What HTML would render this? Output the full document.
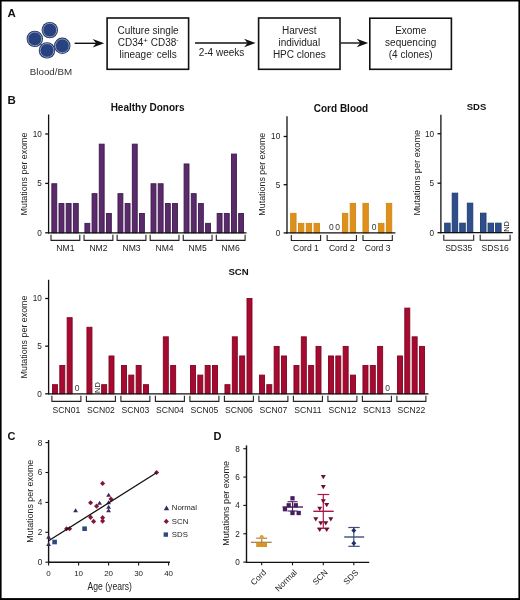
<!DOCTYPE html>
<html><head><meta charset="utf-8"><title>Figure</title>
<style>html,body{margin:0;padding:0;background:#fff;width:520px;height:600px;overflow:hidden}svg{display:block;will-change:transform}text{font-family:"Liberation Sans", sans-serif}</style>
</head><body>
<svg width="520" height="600" viewBox="0 0 520 600">
<rect x="0" y="0" width="520" height="600" fill="#fff"/>
<text x="7.5" y="17" font-size="11.5" text-anchor="start" font-weight="bold" fill="#111" >A</text>
<circle cx="49.8" cy="30.1" r="8.2" fill="#1f2d57"/>
<circle cx="49.8" cy="30.1" r="6.9" fill="#27427f" stroke="#8fa3cc" stroke-width="0.95"/>
<circle cx="34.8" cy="38.9" r="8.2" fill="#1f2d57"/>
<circle cx="34.8" cy="38.9" r="6.9" fill="#27427f" stroke="#8fa3cc" stroke-width="0.95"/>
<circle cx="62.3" cy="45.8" r="8.2" fill="#1f2d57"/>
<circle cx="62.3" cy="45.8" r="6.9" fill="#27427f" stroke="#8fa3cc" stroke-width="0.95"/>
<circle cx="47" cy="50.4" r="8.2" fill="#1f2d57"/>
<circle cx="47" cy="50.4" r="6.9" fill="#27427f" stroke="#8fa3cc" stroke-width="0.95"/>
<text x="51" y="74.7" font-size="9.75" text-anchor="middle" font-weight="normal" fill="#333" >Blood/BM</text>
<line x1="74.6" y1="43.3" x2="98.2" y2="43.3" stroke="#111" stroke-width="1.4"/>
<path d="M104.2,43.3 L92.7,39.0 L96.2,43.3 L92.7,47.599999999999994 Z" fill="#111"/>
<line x1="195" y1="43" x2="249.6" y2="43" stroke="#111" stroke-width="1.4"/>
<path d="M255.6,43 L244.1,38.7 L247.6,43 L244.1,47.3 Z" fill="#111"/>
<line x1="340.5" y1="43" x2="362.2" y2="43" stroke="#111" stroke-width="1.4"/>
<path d="M368.2,43 L356.7,38.7 L360.2,43 L356.7,47.3 Z" fill="#111"/>
<rect x="107.1" y="18" width="81.5" height="51.3" fill="none" stroke="#111" stroke-width="1.6"/>
<rect x="258.6" y="18" width="81.39999999999998" height="51.3" fill="none" stroke="#111" stroke-width="1.6"/>
<rect x="369.8" y="18.2" width="81.59999999999997" height="51.099999999999994" fill="none" stroke="#111" stroke-width="1.6"/>
<text x="148.1" y="34.0" font-size="10.0" text-anchor="middle" font-weight="normal" fill="#222" >Culture single</text>
<text x="148.1" y="45.6" font-size="10.0" text-anchor="middle" fill="#222">CD34<tspan font-size="8" dy="-2.3">+</tspan><tspan dy="2.3"> CD38</tspan><tspan font-size="6.5" dy="-3.6">-</tspan></text>
<text x="148.1" y="57.6" font-size="10.0" text-anchor="middle" fill="#222">lineage<tspan font-size="6.5" dy="-3.6">-</tspan><tspan dy="3.6"> cells</tspan></text>
<text x="221.5" y="56.2" font-size="10.0" text-anchor="middle" font-weight="normal" fill="#222" >2-4 weeks</text>
<text x="299.3" y="34.0" font-size="10.0" text-anchor="middle" font-weight="normal" fill="#222" >Harvest</text>
<text x="299.3" y="45.6" font-size="10.0" text-anchor="middle" font-weight="normal" fill="#222" >individual</text>
<text x="299.3" y="57.6" font-size="10.0" text-anchor="middle" font-weight="normal" fill="#222" >HPC clones</text>
<text x="410.7" y="34.0" font-size="10.0" text-anchor="middle" font-weight="normal" fill="#222" >Exome</text>
<text x="410.7" y="45.6" font-size="10.0" text-anchor="middle" font-weight="normal" fill="#222" >sequencing</text>
<text x="410.7" y="57.6" font-size="10.0" text-anchor="middle" font-weight="normal" fill="#222" >(4 clones)</text>
<text x="7.5" y="103.7" font-size="11.5" text-anchor="start" font-weight="bold" fill="#111" >B</text>
<rect x="51.85" y="183.75" width="4.90" height="49.05" fill="#5a2a6a" stroke="#3c1a4e" stroke-width="0.9"/>
<rect x="59.02" y="203.55" width="4.90" height="29.25" fill="#5a2a6a" stroke="#3c1a4e" stroke-width="0.9"/>
<rect x="66.19" y="203.55" width="4.90" height="29.25" fill="#5a2a6a" stroke="#3c1a4e" stroke-width="0.9"/>
<rect x="73.36" y="203.55" width="4.90" height="29.25" fill="#5a2a6a" stroke="#3c1a4e" stroke-width="0.9"/>
<path d="M51.00,234.80 V240.40 H79.80 V234.80" fill="none" stroke="#222" stroke-width="1.1"/>
<text x="65.40" y="251.00" font-size="8.6" text-anchor="middle" font-weight="normal" fill="#222" >NM1</text>
<rect x="84.91" y="223.35" width="4.90" height="9.45" fill="#5a2a6a" stroke="#3c1a4e" stroke-width="0.9"/>
<rect x="92.08" y="193.65" width="4.90" height="39.15" fill="#5a2a6a" stroke="#3c1a4e" stroke-width="0.9"/>
<rect x="99.25" y="144.15" width="4.90" height="88.65" fill="#5a2a6a" stroke="#3c1a4e" stroke-width="0.9"/>
<rect x="106.42" y="213.45" width="4.90" height="19.35" fill="#5a2a6a" stroke="#3c1a4e" stroke-width="0.9"/>
<path d="M84.06,234.80 V240.40 H112.86 V234.80" fill="none" stroke="#222" stroke-width="1.1"/>
<text x="98.46" y="251.00" font-size="8.6" text-anchor="middle" font-weight="normal" fill="#222" >NM2</text>
<rect x="117.97" y="193.65" width="4.90" height="39.15" fill="#5a2a6a" stroke="#3c1a4e" stroke-width="0.9"/>
<rect x="125.14" y="203.55" width="4.90" height="29.25" fill="#5a2a6a" stroke="#3c1a4e" stroke-width="0.9"/>
<rect x="132.31" y="144.15" width="4.90" height="88.65" fill="#5a2a6a" stroke="#3c1a4e" stroke-width="0.9"/>
<rect x="139.48" y="213.45" width="4.90" height="19.35" fill="#5a2a6a" stroke="#3c1a4e" stroke-width="0.9"/>
<path d="M117.12,234.80 V240.40 H145.92 V234.80" fill="none" stroke="#222" stroke-width="1.1"/>
<text x="131.52" y="251.00" font-size="8.6" text-anchor="middle" font-weight="normal" fill="#222" >NM3</text>
<rect x="151.03" y="183.75" width="4.90" height="49.05" fill="#5a2a6a" stroke="#3c1a4e" stroke-width="0.9"/>
<rect x="158.20" y="183.75" width="4.90" height="49.05" fill="#5a2a6a" stroke="#3c1a4e" stroke-width="0.9"/>
<rect x="165.37" y="203.55" width="4.90" height="29.25" fill="#5a2a6a" stroke="#3c1a4e" stroke-width="0.9"/>
<rect x="172.54" y="203.55" width="4.90" height="29.25" fill="#5a2a6a" stroke="#3c1a4e" stroke-width="0.9"/>
<path d="M150.18,234.80 V240.40 H178.98 V234.80" fill="none" stroke="#222" stroke-width="1.1"/>
<text x="164.58" y="251.00" font-size="8.6" text-anchor="middle" font-weight="normal" fill="#222" >NM4</text>
<rect x="184.09" y="163.95" width="4.90" height="68.85" fill="#5a2a6a" stroke="#3c1a4e" stroke-width="0.9"/>
<rect x="191.26" y="193.65" width="4.90" height="39.15" fill="#5a2a6a" stroke="#3c1a4e" stroke-width="0.9"/>
<rect x="198.43" y="203.55" width="4.90" height="29.25" fill="#5a2a6a" stroke="#3c1a4e" stroke-width="0.9"/>
<rect x="205.60" y="223.35" width="4.90" height="9.45" fill="#5a2a6a" stroke="#3c1a4e" stroke-width="0.9"/>
<path d="M183.24,234.80 V240.40 H212.04 V234.80" fill="none" stroke="#222" stroke-width="1.1"/>
<text x="197.64" y="251.00" font-size="8.6" text-anchor="middle" font-weight="normal" fill="#222" >NM5</text>
<rect x="217.15" y="213.45" width="4.90" height="19.35" fill="#5a2a6a" stroke="#3c1a4e" stroke-width="0.9"/>
<rect x="224.32" y="213.45" width="4.90" height="19.35" fill="#5a2a6a" stroke="#3c1a4e" stroke-width="0.9"/>
<rect x="231.49" y="154.05" width="4.90" height="78.75" fill="#5a2a6a" stroke="#3c1a4e" stroke-width="0.9"/>
<rect x="238.66" y="213.45" width="4.90" height="19.35" fill="#5a2a6a" stroke="#3c1a4e" stroke-width="0.9"/>
<path d="M216.30,234.80 V240.40 H245.10 V234.80" fill="none" stroke="#222" stroke-width="1.1"/>
<text x="230.70" y="251.00" font-size="8.6" text-anchor="middle" font-weight="normal" fill="#222" >NM6</text>
<line x1="48.6" y1="114.5" x2="48.6" y2="233.4" stroke="#111" stroke-width="1.3"/>
<line x1="48.0" y1="232.8" x2="246.5" y2="232.8" stroke="#111" stroke-width="1.3"/>
<line x1="45.2" y1="232.8" x2="48.6" y2="232.8" stroke="#111" stroke-width="1.3"/>
<text x="41.80" y="235.60" font-size="8.2" text-anchor="end" font-weight="normal" fill="#222" >0</text>
<line x1="45.2" y1="183.4" x2="48.6" y2="183.4" stroke="#111" stroke-width="1.3"/>
<text x="41.80" y="186.20" font-size="8.2" text-anchor="end" font-weight="normal" fill="#222" >5</text>
<line x1="45.2" y1="134.0" x2="48.6" y2="134.0" stroke="#111" stroke-width="1.3"/>
<text x="41.80" y="136.80" font-size="8.2" text-anchor="end" font-weight="normal" fill="#222" >10</text>
<text x="0" y="0" font-size="8.9" text-anchor="middle" fill="#222" transform="translate(26.9,174) rotate(-90)">Mutations per exome</text>
<text x="147.6" y="110.8" font-size="10" text-anchor="middle" font-weight="bold" fill="#111" >Healthy Donors</text>
<rect x="290.65" y="213.35" width="5.40" height="19.55" fill="#e0901a" stroke="#c88a16" stroke-width="0.9"/>
<rect x="298.45" y="223.35" width="5.40" height="9.55" fill="#e0901a" stroke="#c88a16" stroke-width="0.9"/>
<rect x="306.25" y="223.35" width="5.40" height="9.55" fill="#e0901a" stroke="#c88a16" stroke-width="0.9"/>
<rect x="314.05" y="223.35" width="5.40" height="9.55" fill="#e0901a" stroke="#c88a16" stroke-width="0.9"/>
<path d="M291.30,234.90 V240.50 H320.60 V234.90" fill="none" stroke="#222" stroke-width="1.1"/>
<text x="305.95" y="251.10" font-size="8.6" text-anchor="middle" font-weight="normal" fill="#222" >Cord 1</text>
<text x="331.30" y="230.00" font-size="8.5" text-anchor="middle" font-weight="normal" fill="#333" >0</text>
<text x="337.70" y="230.00" font-size="8.5" text-anchor="middle" font-weight="normal" fill="#333" >0</text>
<rect x="342.40" y="213.35" width="5.40" height="19.55" fill="#e0901a" stroke="#c88a16" stroke-width="0.9"/>
<rect x="350.20" y="203.35" width="5.40" height="29.55" fill="#e0901a" stroke="#c88a16" stroke-width="0.9"/>
<path d="M327.15,234.90 V240.50 H356.45 V234.90" fill="none" stroke="#222" stroke-width="1.1"/>
<text x="341.80" y="251.10" font-size="8.6" text-anchor="middle" font-weight="normal" fill="#222" >Cord 2</text>
<rect x="362.95" y="203.35" width="5.40" height="29.55" fill="#e0901a" stroke="#c88a16" stroke-width="0.9"/>
<text x="374.20" y="230.00" font-size="8.5" text-anchor="middle" font-weight="normal" fill="#333" >0</text>
<rect x="378.55" y="223.35" width="5.40" height="9.55" fill="#e0901a" stroke="#c88a16" stroke-width="0.9"/>
<rect x="386.35" y="203.35" width="5.40" height="29.55" fill="#e0901a" stroke="#c88a16" stroke-width="0.9"/>
<path d="M363.00,234.90 V240.50 H392.30 V234.90" fill="none" stroke="#222" stroke-width="1.1"/>
<text x="377.65" y="251.10" font-size="8.6" text-anchor="middle" font-weight="normal" fill="#222" >Cord 3</text>
<line x1="287.0" y1="116.2" x2="287.0" y2="233.5" stroke="#111" stroke-width="1.3"/>
<line x1="286.4" y1="232.9" x2="395.4" y2="232.9" stroke="#111" stroke-width="1.3"/>
<line x1="283.6" y1="232.9" x2="287.0" y2="232.9" stroke="#111" stroke-width="1.3"/>
<text x="280.20" y="235.70" font-size="8.2" text-anchor="end" font-weight="normal" fill="#222" >0</text>
<line x1="283.6" y1="184.7" x2="287.0" y2="184.7" stroke="#111" stroke-width="1.3"/>
<text x="280.20" y="187.50" font-size="8.2" text-anchor="end" font-weight="normal" fill="#222" >5</text>
<line x1="283.6" y1="136.5" x2="287.0" y2="136.5" stroke="#111" stroke-width="1.3"/>
<text x="280.20" y="139.30" font-size="8.2" text-anchor="end" font-weight="normal" fill="#222" >10</text>
<text x="0" y="0" font-size="8.9" text-anchor="middle" fill="#222" transform="translate(265.4,174.2) rotate(-90)">Mutations per exome</text>
<text x="341" y="112.0" font-size="10" text-anchor="middle" font-weight="bold" fill="#111" >Cord Blood</text>
<rect x="444.65" y="223.15" width="5.50" height="9.55" fill="#2f4e8c" stroke="#213a6e" stroke-width="0.9"/>
<rect x="452.20" y="193.15" width="5.50" height="39.55" fill="#2f4e8c" stroke="#213a6e" stroke-width="0.9"/>
<rect x="459.75" y="223.15" width="5.50" height="9.55" fill="#2f4e8c" stroke="#213a6e" stroke-width="0.9"/>
<rect x="467.30" y="203.15" width="5.50" height="29.55" fill="#2f4e8c" stroke="#213a6e" stroke-width="0.9"/>
<path d="M443.80,234.70 V240.30 H473.70 V234.70" fill="none" stroke="#222" stroke-width="1.1"/>
<text x="458.75" y="250.90" font-size="8.6" text-anchor="middle" font-weight="normal" fill="#222" >SDS35</text>
<rect x="480.50" y="213.15" width="5.50" height="19.55" fill="#2f4e8c" stroke="#213a6e" stroke-width="0.9"/>
<rect x="488.05" y="223.15" width="5.50" height="9.55" fill="#2f4e8c" stroke="#213a6e" stroke-width="0.9"/>
<rect x="495.60" y="223.15" width="5.50" height="9.55" fill="#2f4e8c" stroke="#213a6e" stroke-width="0.9"/>
<text x="0" y="0" font-size="7.5" fill="#222" transform="translate(508.60,231.80) rotate(-90)">ND</text>
<path d="M480.20,234.70 V240.30 H510.10 V234.70" fill="none" stroke="#222" stroke-width="1.1"/>
<text x="495.15" y="250.90" font-size="8.6" text-anchor="middle" font-weight="normal" fill="#222" >SDS16</text>
<line x1="440.9" y1="114.8" x2="440.9" y2="233.29999999999998" stroke="#111" stroke-width="1.3"/>
<line x1="440.29999999999995" y1="232.7" x2="512.8" y2="232.7" stroke="#111" stroke-width="1.3"/>
<line x1="437.5" y1="232.7" x2="440.9" y2="232.7" stroke="#111" stroke-width="1.3"/>
<text x="434.10" y="235.50" font-size="8.2" text-anchor="end" font-weight="normal" fill="#222" >0</text>
<line x1="437.5" y1="183.2" x2="440.9" y2="183.2" stroke="#111" stroke-width="1.3"/>
<text x="434.10" y="186.00" font-size="8.2" text-anchor="end" font-weight="normal" fill="#222" >5</text>
<line x1="437.5" y1="133.7" x2="440.9" y2="133.7" stroke="#111" stroke-width="1.3"/>
<text x="434.10" y="136.50" font-size="8.2" text-anchor="end" font-weight="normal" fill="#222" >10</text>
<text x="0" y="0" font-size="9.2" text-anchor="middle" fill="#222" transform="translate(419.6,172.7) rotate(-90)">Mutations per exome</text>
<text x="476.5" y="110.2" font-size="9.5" text-anchor="middle" font-weight="bold" fill="#111" >SDS</text>
<rect x="52.45" y="384.68" width="5.00" height="9.12" fill="#a60a30" stroke="#7e0522" stroke-width="0.9"/>
<rect x="59.80" y="365.54" width="5.00" height="28.26" fill="#a60a30" stroke="#7e0522" stroke-width="0.9"/>
<rect x="67.15" y="317.69" width="5.00" height="76.11" fill="#a60a30" stroke="#7e0522" stroke-width="0.9"/>
<text x="77.00" y="390.90" font-size="8.5" text-anchor="middle" font-weight="normal" fill="#333" >0</text>
<path d="M51.90,395.80 V401.40 H80.90 V395.80" fill="none" stroke="#222" stroke-width="1.1"/>
<text x="66.40" y="412.70" font-size="8.6" text-anchor="middle" font-weight="normal" fill="#222" >SCN01</text>
<rect x="86.95" y="327.26" width="5.00" height="66.54" fill="#a60a30" stroke="#7e0522" stroke-width="0.9"/>
<text x="0" y="0" font-size="7.5" fill="#222" transform="translate(99.50,392.90) rotate(-90)">ND</text>
<rect x="101.65" y="384.68" width="5.00" height="9.12" fill="#a60a30" stroke="#7e0522" stroke-width="0.9"/>
<rect x="109.00" y="355.97" width="5.00" height="37.83" fill="#a60a30" stroke="#7e0522" stroke-width="0.9"/>
<path d="M86.40,395.80 V401.40 H115.40 V395.80" fill="none" stroke="#222" stroke-width="1.1"/>
<text x="100.90" y="412.70" font-size="8.6" text-anchor="middle" font-weight="normal" fill="#222" >SCN02</text>
<rect x="121.45" y="365.54" width="5.00" height="28.26" fill="#a60a30" stroke="#7e0522" stroke-width="0.9"/>
<rect x="128.80" y="375.11" width="5.00" height="18.69" fill="#a60a30" stroke="#7e0522" stroke-width="0.9"/>
<rect x="136.15" y="365.54" width="5.00" height="28.26" fill="#a60a30" stroke="#7e0522" stroke-width="0.9"/>
<rect x="143.50" y="384.68" width="5.00" height="9.12" fill="#a60a30" stroke="#7e0522" stroke-width="0.9"/>
<path d="M120.90,395.80 V401.40 H149.90 V395.80" fill="none" stroke="#222" stroke-width="1.1"/>
<text x="135.40" y="412.70" font-size="8.6" text-anchor="middle" font-weight="normal" fill="#222" >SCN03</text>
<rect x="163.30" y="336.83" width="5.00" height="56.97" fill="#a60a30" stroke="#7e0522" stroke-width="0.9"/>
<rect x="170.65" y="365.54" width="5.00" height="28.26" fill="#a60a30" stroke="#7e0522" stroke-width="0.9"/>
<path d="M155.40,395.80 V401.40 H184.40 V395.80" fill="none" stroke="#222" stroke-width="1.1"/>
<text x="169.90" y="412.70" font-size="8.6" text-anchor="middle" font-weight="normal" fill="#222" >SCN04</text>
<rect x="190.45" y="365.54" width="5.00" height="28.26" fill="#a60a30" stroke="#7e0522" stroke-width="0.9"/>
<rect x="197.80" y="375.11" width="5.00" height="18.69" fill="#a60a30" stroke="#7e0522" stroke-width="0.9"/>
<rect x="205.15" y="365.54" width="5.00" height="28.26" fill="#a60a30" stroke="#7e0522" stroke-width="0.9"/>
<rect x="212.50" y="365.54" width="5.00" height="28.26" fill="#a60a30" stroke="#7e0522" stroke-width="0.9"/>
<path d="M189.90,395.80 V401.40 H218.90 V395.80" fill="none" stroke="#222" stroke-width="1.1"/>
<text x="204.40" y="412.70" font-size="8.6" text-anchor="middle" font-weight="normal" fill="#222" >SCN05</text>
<rect x="224.95" y="384.68" width="5.00" height="9.12" fill="#a60a30" stroke="#7e0522" stroke-width="0.9"/>
<rect x="232.30" y="336.83" width="5.00" height="56.97" fill="#a60a30" stroke="#7e0522" stroke-width="0.9"/>
<rect x="239.65" y="355.97" width="5.00" height="37.83" fill="#a60a30" stroke="#7e0522" stroke-width="0.9"/>
<rect x="247.00" y="298.55" width="5.00" height="95.25" fill="#a60a30" stroke="#7e0522" stroke-width="0.9"/>
<path d="M224.40,395.80 V401.40 H253.40 V395.80" fill="none" stroke="#222" stroke-width="1.1"/>
<text x="238.90" y="412.70" font-size="8.6" text-anchor="middle" font-weight="normal" fill="#222" >SCN06</text>
<rect x="259.45" y="375.11" width="5.00" height="18.69" fill="#a60a30" stroke="#7e0522" stroke-width="0.9"/>
<rect x="266.80" y="384.68" width="5.00" height="9.12" fill="#a60a30" stroke="#7e0522" stroke-width="0.9"/>
<rect x="274.15" y="346.40" width="5.00" height="47.40" fill="#a60a30" stroke="#7e0522" stroke-width="0.9"/>
<rect x="281.50" y="355.97" width="5.00" height="37.83" fill="#a60a30" stroke="#7e0522" stroke-width="0.9"/>
<path d="M258.90,395.80 V401.40 H287.90 V395.80" fill="none" stroke="#222" stroke-width="1.1"/>
<text x="273.40" y="412.70" font-size="8.6" text-anchor="middle" font-weight="normal" fill="#222" >SCN07</text>
<rect x="293.95" y="365.54" width="5.00" height="28.26" fill="#a60a30" stroke="#7e0522" stroke-width="0.9"/>
<rect x="301.30" y="336.83" width="5.00" height="56.97" fill="#a60a30" stroke="#7e0522" stroke-width="0.9"/>
<rect x="308.65" y="365.54" width="5.00" height="28.26" fill="#a60a30" stroke="#7e0522" stroke-width="0.9"/>
<rect x="316.00" y="346.40" width="5.00" height="47.40" fill="#a60a30" stroke="#7e0522" stroke-width="0.9"/>
<path d="M293.40,395.80 V401.40 H322.40 V395.80" fill="none" stroke="#222" stroke-width="1.1"/>
<text x="307.90" y="412.70" font-size="8.6" text-anchor="middle" font-weight="normal" fill="#222" >SCN11</text>
<rect x="328.45" y="355.97" width="5.00" height="37.83" fill="#a60a30" stroke="#7e0522" stroke-width="0.9"/>
<rect x="335.80" y="355.97" width="5.00" height="37.83" fill="#a60a30" stroke="#7e0522" stroke-width="0.9"/>
<rect x="343.15" y="346.40" width="5.00" height="47.40" fill="#a60a30" stroke="#7e0522" stroke-width="0.9"/>
<rect x="350.50" y="375.11" width="5.00" height="18.69" fill="#a60a30" stroke="#7e0522" stroke-width="0.9"/>
<path d="M327.90,395.80 V401.40 H356.90 V395.80" fill="none" stroke="#222" stroke-width="1.1"/>
<text x="342.40" y="412.70" font-size="8.6" text-anchor="middle" font-weight="normal" fill="#222" >SCN12</text>
<rect x="362.95" y="365.54" width="5.00" height="28.26" fill="#a60a30" stroke="#7e0522" stroke-width="0.9"/>
<rect x="370.30" y="365.54" width="5.00" height="28.26" fill="#a60a30" stroke="#7e0522" stroke-width="0.9"/>
<rect x="377.65" y="346.40" width="5.00" height="47.40" fill="#a60a30" stroke="#7e0522" stroke-width="0.9"/>
<text x="387.50" y="390.90" font-size="8.5" text-anchor="middle" font-weight="normal" fill="#333" >0</text>
<path d="M362.40,395.80 V401.40 H391.40 V395.80" fill="none" stroke="#222" stroke-width="1.1"/>
<text x="376.90" y="412.70" font-size="8.6" text-anchor="middle" font-weight="normal" fill="#222" >SCN13</text>
<rect x="397.45" y="355.97" width="5.00" height="37.83" fill="#a60a30" stroke="#7e0522" stroke-width="0.9"/>
<rect x="404.80" y="308.12" width="5.00" height="85.68" fill="#a60a30" stroke="#7e0522" stroke-width="0.9"/>
<rect x="412.15" y="336.83" width="5.00" height="56.97" fill="#a60a30" stroke="#7e0522" stroke-width="0.9"/>
<rect x="419.50" y="346.40" width="5.00" height="47.40" fill="#a60a30" stroke="#7e0522" stroke-width="0.9"/>
<path d="M396.90,395.80 V401.40 H425.90 V395.80" fill="none" stroke="#222" stroke-width="1.1"/>
<text x="411.40" y="412.70" font-size="8.6" text-anchor="middle" font-weight="normal" fill="#222" >SCN22</text>
<line x1="48.6" y1="279.8" x2="48.6" y2="394.40000000000003" stroke="#111" stroke-width="1.3"/>
<line x1="48.0" y1="393.8" x2="428.5" y2="393.8" stroke="#111" stroke-width="1.3"/>
<line x1="45.2" y1="393.8" x2="48.6" y2="393.8" stroke="#111" stroke-width="1.3"/>
<text x="41.80" y="396.60" font-size="8.2" text-anchor="end" font-weight="normal" fill="#222" >0</text>
<line x1="45.2" y1="346.15000000000003" x2="48.6" y2="346.15000000000003" stroke="#111" stroke-width="1.3"/>
<text x="41.80" y="348.95" font-size="8.2" text-anchor="end" font-weight="normal" fill="#222" >5</text>
<line x1="45.2" y1="298.5" x2="48.6" y2="298.5" stroke="#111" stroke-width="1.3"/>
<text x="41.80" y="301.30" font-size="8.2" text-anchor="end" font-weight="normal" fill="#222" >10</text>
<text x="0" y="0" font-size="8.9" text-anchor="middle" fill="#222" transform="translate(27.3,337) rotate(-90)">Mutations per exome</text>
<text x="238.6" y="274.6" font-size="9.6" text-anchor="middle" font-weight="bold" fill="#111" >SCN</text>
<text x="7.4" y="439.5" font-size="11" text-anchor="start" font-weight="bold" fill="#111" >C</text>
<line x1="48.6" y1="440" x2="48.6" y2="562.7" stroke="#111" stroke-width="1.4"/>
<line x1="48.1" y1="562.2" x2="170" y2="562.2" stroke="#111" stroke-width="1.4"/>
<line x1="45.4" y1="562.2" x2="48.6" y2="562.2" stroke="#111" stroke-width="1.1"/>
<text x="42.20" y="565.10" font-size="8.2" text-anchor="end" font-weight="normal" fill="#222" >0</text>
<line x1="45.4" y1="532.3000000000001" x2="48.6" y2="532.3000000000001" stroke="#111" stroke-width="1.1"/>
<text x="42.20" y="535.20" font-size="8.2" text-anchor="end" font-weight="normal" fill="#222" >2</text>
<line x1="45.4" y1="502.40000000000003" x2="48.6" y2="502.40000000000003" stroke="#111" stroke-width="1.1"/>
<text x="42.20" y="505.30" font-size="8.2" text-anchor="end" font-weight="normal" fill="#222" >4</text>
<line x1="45.4" y1="472.50000000000006" x2="48.6" y2="472.50000000000006" stroke="#111" stroke-width="1.1"/>
<text x="42.20" y="475.40" font-size="8.2" text-anchor="end" font-weight="normal" fill="#222" >6</text>
<line x1="45.4" y1="442.6" x2="48.6" y2="442.6" stroke="#111" stroke-width="1.1"/>
<text x="42.20" y="445.50" font-size="8.2" text-anchor="end" font-weight="normal" fill="#222" >8</text>
<line x1="48.6" y1="562.2" x2="48.6" y2="565.4000000000001" stroke="#111" stroke-width="1.1"/>
<text x="48.60" y="575.50" font-size="8.0" text-anchor="middle" font-weight="normal" fill="#222" >0</text>
<line x1="78.6" y1="562.2" x2="78.6" y2="565.4000000000001" stroke="#111" stroke-width="1.1"/>
<text x="78.60" y="575.50" font-size="8.0" text-anchor="middle" font-weight="normal" fill="#222" >10</text>
<line x1="108.6" y1="562.2" x2="108.6" y2="565.4000000000001" stroke="#111" stroke-width="1.1"/>
<text x="108.60" y="575.50" font-size="8.0" text-anchor="middle" font-weight="normal" fill="#222" >20</text>
<line x1="138.6" y1="562.2" x2="138.6" y2="565.4000000000001" stroke="#111" stroke-width="1.1"/>
<text x="138.60" y="575.50" font-size="8.0" text-anchor="middle" font-weight="normal" fill="#222" >30</text>
<line x1="168.6" y1="562.2" x2="168.6" y2="565.4000000000001" stroke="#111" stroke-width="1.1"/>
<text x="168.60" y="575.50" font-size="8.0" text-anchor="middle" font-weight="normal" fill="#222" >40</text>
<text x="0" y="0" font-size="10.3" fill="#222" transform="translate(87.6,590) scale(0.835,1)">Age (years)</text>
<text x="0" y="0" font-size="8.9" text-anchor="middle" fill="#222" transform="translate(32.8,501.2) rotate(-90)">Mutations per exome</text>
<path d="M46.20,538.85 L51.00,538.85 L48.60,534.77 Z" fill="#3b2462"/>
<path d="M46.20,546.03 L51.00,546.03 L48.60,541.95 Z" fill="#3b2462"/>
<path d="M73.20,512.24 L78.00,512.24 L75.60,508.16 Z" fill="#3b2462"/>
<path d="M97.20,504.77 L102.00,504.77 L99.60,500.69 Z" fill="#3b2462"/>
<path d="M106.20,496.85 L111.00,496.85 L108.60,492.77 Z" fill="#3b2462"/>
<path d="M106.20,504.32 L111.00,504.32 L108.60,500.24 Z" fill="#3b2462"/>
<path d="M106.20,508.81 L111.00,508.81 L108.60,504.73 Z" fill="#3b2462"/>
<path d="M106.20,512.24 L111.00,512.24 L108.60,508.16 Z" fill="#3b2462"/>
<path d="M102.60,480.86 L105.15,483.41 L102.60,485.96 L100.05,483.41 Z" fill="#84163a"/>
<path d="M111.00,496.56 L113.55,499.11 L111.00,501.66 L108.45,499.11 Z" fill="#84163a"/>
<path d="M90.60,500.15 L93.15,502.70 L90.60,505.25 L88.05,502.70 Z" fill="#84163a"/>
<path d="M96.60,503.59 L99.15,506.14 L96.60,508.69 L94.05,506.14 Z" fill="#84163a"/>
<path d="M90.60,514.80 L93.15,517.35 L90.60,519.90 L88.05,517.35 Z" fill="#84163a"/>
<path d="M93.60,518.84 L96.15,521.39 L93.60,523.94 L91.05,521.39 Z" fill="#84163a"/>
<path d="M102.60,515.10 L105.15,517.65 L102.60,520.20 L100.05,517.65 Z" fill="#84163a"/>
<path d="M102.60,518.54 L105.15,521.09 L102.60,523.64 L100.05,521.09 Z" fill="#84163a"/>
<path d="M66.60,526.16 L69.15,528.71 L66.60,531.26 L64.05,528.71 Z" fill="#84163a"/>
<path d="M69.60,526.16 L72.15,528.71 L69.60,531.26 L67.05,528.71 Z" fill="#84163a"/>
<path d="M156.60,469.95 L159.15,472.50 L156.60,475.05 L154.05,472.50 Z" fill="#84163a"/>
<rect x="52.30" y="539.72" width="4.60" height="4.60" fill="#2d4a80"/>
<rect x="82.30" y="526.41" width="4.60" height="4.60" fill="#2d4a80"/>
<line x1="48.6" y1="540.8" x2="156.5" y2="472.8" stroke="#111" stroke-width="1.3"/>
<path d="M163.80,510.16 L169.20,510.16 L166.50,505.57 Z" fill="#3b2462"/>
<text x="171.8" y="510.3" font-size="7.8" text-anchor="start" font-weight="normal" fill="#222" >Normal</text>
<path d="M166.30,518.80 L168.90,521.40 L166.30,524.00 L163.70,521.40 Z" fill="#84163a"/>
<text x="171.8" y="524" font-size="7.8" text-anchor="start" font-weight="normal" fill="#222" >SCN</text>
<rect x="163.60" y="532.40" width="4.40" height="4.40" fill="#2d4a80"/>
<text x="171.8" y="537.2" font-size="7.8" text-anchor="start" font-weight="normal" fill="#222" >SDS</text>
<text x="213.4" y="439.5" font-size="11" text-anchor="start" font-weight="bold" fill="#111" >D</text>
<line x1="246.5" y1="445.4" x2="246.5" y2="562.6" stroke="#111" stroke-width="1.4"/>
<line x1="246.0" y1="562.4" x2="369.2" y2="562.4" stroke="#111" stroke-width="1.4"/>
<line x1="243.3" y1="562.1" x2="246.5" y2="562.1" stroke="#111" stroke-width="1.1"/>
<text x="239.90" y="565.00" font-size="8.2" text-anchor="end" font-weight="normal" fill="#222" >0</text>
<line x1="243.3" y1="533.76" x2="246.5" y2="533.76" stroke="#111" stroke-width="1.1"/>
<text x="239.90" y="536.66" font-size="8.2" text-anchor="end" font-weight="normal" fill="#222" >2</text>
<line x1="243.3" y1="505.42" x2="246.5" y2="505.42" stroke="#111" stroke-width="1.1"/>
<text x="239.90" y="508.32" font-size="8.2" text-anchor="end" font-weight="normal" fill="#222" >4</text>
<line x1="243.3" y1="477.08000000000004" x2="246.5" y2="477.08000000000004" stroke="#111" stroke-width="1.1"/>
<text x="239.90" y="479.98" font-size="8.2" text-anchor="end" font-weight="normal" fill="#222" >6</text>
<line x1="243.3" y1="448.74" x2="246.5" y2="448.74" stroke="#111" stroke-width="1.1"/>
<text x="239.90" y="451.64" font-size="8.2" text-anchor="end" font-weight="normal" fill="#222" >8</text>
<text x="0" y="0" font-size="9.1" text-anchor="middle" fill="#222" transform="translate(229.4,503.4) rotate(-90)">Mutations per exome</text>
<line x1="261.7" y1="562.1" x2="261.7" y2="565.3000000000001" stroke="#111" stroke-width="1.1"/>
<text x="0" y="0" font-size="8.3" text-anchor="end" fill="#222" transform="translate(266.70,573.10) rotate(-45)">Cord</text>
<line x1="292.5" y1="562.1" x2="292.5" y2="565.3000000000001" stroke="#111" stroke-width="1.1"/>
<text x="0" y="0" font-size="8.3" text-anchor="end" fill="#222" transform="translate(297.50,573.10) rotate(-45)">Normal</text>
<line x1="323.3" y1="562.1" x2="323.3" y2="565.3000000000001" stroke="#111" stroke-width="1.1"/>
<text x="0" y="0" font-size="8.3" text-anchor="end" fill="#222" transform="translate(328.30,573.10) rotate(-45)">SCN</text>
<line x1="353.8" y1="562.1" x2="353.8" y2="565.3000000000001" stroke="#111" stroke-width="1.1"/>
<text x="0" y="0" font-size="8.3" text-anchor="end" fill="#222" transform="translate(358.80,573.10) rotate(-45)">SDS</text>
<line x1="251.0" y1="542.3" x2="271.7" y2="542.3" stroke="#a27a3c" stroke-width="1.2"/>
<line x1="256.1" y1="538.2" x2="267.1" y2="538.2" stroke="#a27a3c" stroke-width="1.1"/>
<line x1="261.7" y1="538.2" x2="261.7" y2="543" stroke="#a27a3c" stroke-width="1.1"/>
<circle cx="261.7" cy="537.2" r="2.1" fill="#e0a030"/>
<rect x="256.2" y="542.9" width="10.8" height="4.1" fill="#d99424"/>
<rect x="290.35" y="496.15" width="4.30" height="4.30" fill="#4a1e5e"/>
<rect x="286.55" y="503.15" width="4.30" height="4.30" fill="#4a1e5e"/>
<rect x="293.65" y="503.15" width="4.30" height="4.30" fill="#4a1e5e"/>
<rect x="282.85" y="507.05" width="4.30" height="4.30" fill="#4a1e5e"/>
<rect x="290.35" y="510.85" width="4.30" height="4.30" fill="#4a1e5e"/>
<rect x="296.55" y="510.85" width="4.30" height="4.30" fill="#4a1e5e"/>
<line x1="282.5" y1="507" x2="303" y2="507" stroke="#4a1e5e" stroke-width="1.4"/>
<line x1="287.5" y1="501.7" x2="297.5" y2="501.7" stroke="#4a1e5e" stroke-width="1.1"/>
<line x1="287.5" y1="511" x2="297.5" y2="511" stroke="#4a1e5e" stroke-width="1.1"/>
<line x1="292.5" y1="501.7" x2="292.5" y2="511" stroke="#4a1e5e" stroke-width="1.1"/>
<line x1="313.3" y1="511.3" x2="333.7" y2="511.3" stroke="#b01445" stroke-width="1.4"/>
<line x1="317.5" y1="494.5" x2="329.2" y2="494.5" stroke="#b01445" stroke-width="1.2"/>
<line x1="317.5" y1="528.3" x2="329.2" y2="528.3" stroke="#b01445" stroke-width="1.2"/>
<line x1="323.3" y1="494.5" x2="323.3" y2="528.3" stroke="#b01445" stroke-width="1.2"/>
<path d="M320.80,475.00 L325.80,475.00 L323.30,479.25 Z" fill="#6e0f30"/>
<path d="M320.80,485.00 L325.80,485.00 L323.30,489.25 Z" fill="#6e0f30"/>
<path d="M320.80,499.30 L325.80,499.30 L323.30,503.55 Z" fill="#6e0f30"/>
<path d="M324.20,503.00 L329.20,503.00 L326.70,507.25 Z" fill="#6e0f30"/>
<path d="M317.20,506.70 L322.20,506.70 L319.70,510.95 Z" fill="#6e0f30"/>
<path d="M313.30,517.20 L318.30,517.20 L315.80,521.45 Z" fill="#6e0f30"/>
<path d="M328.30,517.20 L333.30,517.20 L330.80,521.45 Z" fill="#6e0f30"/>
<path d="M318.30,521.30 L323.30,521.30 L320.80,525.55 Z" fill="#6e0f30"/>
<path d="M323.30,521.30 L328.30,521.30 L325.80,525.55 Z" fill="#6e0f30"/>
<path d="M317.20,527.70 L322.20,527.70 L319.70,531.95 Z" fill="#6e0f30"/>
<path d="M324.20,527.70 L329.20,527.70 L326.70,531.95 Z" fill="#6e0f30"/>
<line x1="344.2" y1="537" x2="364.2" y2="537" stroke="#3c4f7c" stroke-width="1.4"/>
<line x1="348.3" y1="527.5" x2="359.7" y2="527.5" stroke="#3c4f7c" stroke-width="1.2"/>
<line x1="348.3" y1="546.3" x2="359.7" y2="546.3" stroke="#3c4f7c" stroke-width="1.2"/>
<line x1="353.8" y1="527.5" x2="353.8" y2="546.3" stroke="#3c4f7c" stroke-width="1.2"/>
<path d="M353.80,527.90 L356.30,530.40 L353.80,532.90 L351.30,530.40 Z" fill="#1f2f64"/>
<path d="M353.80,540.70 L356.30,543.20 L353.80,545.70 L351.30,543.20 Z" fill="#1f2f64"/>
<rect x="0" y="0" width="520" height="1.5" fill="#000"/>
<rect x="0" y="0" width="1.6" height="600" fill="#000"/>
<rect x="518.4" y="0" width="1.6" height="600" fill="#000"/>
<rect x="0" y="598.1" width="520" height="1.9" fill="#000"/>
</svg>
</body></html>
